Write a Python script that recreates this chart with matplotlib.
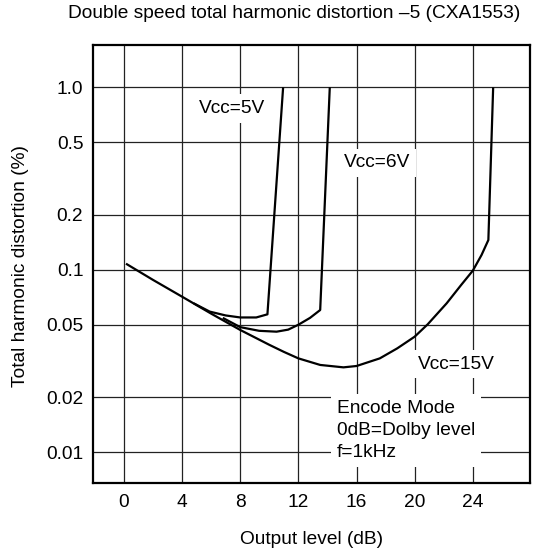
import matplotlib
matplotlib.use("Agg")
import matplotlib.pyplot as plt
from matplotlib.ticker import FixedLocator, NullLocator

plt.rcParams['font.family'] = ['Liberation Sans', 'DejaVu Sans']

# Data
x_15 = [0.14, 2.0, 4.0, 6.0, 8.0, 10.0, 11.0, 12.0, 13.5, 15.1, 16.0, 17.6, 18.8, 20.0,
        20.9, 22.2, 23.2, 24.0, 24.6, 25.07, 25.4]
y_15 = [0.108, 0.088, 0.0712, 0.0575, 0.0468, 0.0388, 0.0355, 0.0327, 0.0301, 0.0292,
        0.0297, 0.0327, 0.0371, 0.043, 0.0503, 0.0655, 0.0826, 0.0989, 0.1205, 0.1456, 1.0]

x_5 = [4.8, 5.9, 7.0, 8.0, 9.1, 9.87, 10.95]
y_5 = [0.0655, 0.059, 0.0562, 0.0548, 0.0548, 0.057, 1.0]

x_6 = [6.8, 8.0, 9.3, 10.5, 11.3, 12.0, 12.8, 13.5, 14.16]
y_6 = [0.0545, 0.0485, 0.0463, 0.0458, 0.0470, 0.0500, 0.0545, 0.0602, 1.0]

x_ticks = [0, 4, 8, 12, 16, 20, 24]
y_ticks = [1.0, 0.5, 0.2, 0.1, 0.05, 0.02, 0.01]
y_tick_labels = ["1.0", "0.5", "0.2", "0.1", "0.05", "0.02", "0.01"]

title = "Double speed total harmonic distortion \u20135 (CXA1553)"
xlabel = "Output level (dB)"
ylabel = "Total harmonic distortion (%)"

FS = 13.8

fig = plt.figure(figsize=(5.5, 5.51), dpi=100)
ax = fig.add_axes([93/550, 1 - 482.5/551, (529.5 - 93)/550, (482.5 - 45)/551])
ax.set_yscale('log')
ax.set_xlim(-2.13, 27.9)
ax.set_ylim(0.00683, 1.705)

ax.xaxis.set_major_locator(FixedLocator(x_ticks))
ax.xaxis.set_minor_locator(NullLocator())
ax.yaxis.set_major_locator(FixedLocator(y_ticks))
ax.yaxis.set_minor_locator(NullLocator())
ax.set_xticklabels([str(v) for v in x_ticks])
ax.set_yticklabels(y_tick_labels)
ax.tick_params(axis='both', length=0, labelsize=FS)
ax.tick_params(axis='x', pad=8)
ax.tick_params(axis='y', pad=7)

ax.grid(True, which='major', color='#222222', linewidth=0.9, zorder=1)
ax.set_axisbelow(True)
for s in ax.spines.values():
    s.set_linewidth(1.6)
    s.set_color('black')

lw = 1.6
for xs, ys in ((x_15, y_15), (x_5, y_5), (x_6, y_6)):
    ax.plot(xs, ys, color='black', lw=lw, zorder=4, solid_joinstyle='round',
            solid_capstyle='butt')

box = dict(facecolor='white', edgecolor='none', pad=4)
ax.text(7.43, 0.765, "Vcc=5V", fontsize=FS, ha='center', va='center', bbox=box, zorder=3)
ax.text(17.45, 0.385, "Vcc=6V", fontsize=FS, ha='center', va='center', bbox=box, zorder=3)
ax.text(22.85, 0.0303, "Vcc=15V", fontsize=FS, ha='center', va='center', bbox=box, zorder=3)
ax.text(14.66, 0.01316, "Encode Mode\n0dB=Dolby level\nf=1kHz", fontsize=FS,
        ha='left', va='center', linespacing=1.42, bbox=box, zorder=3)

fig.text(294/550, 1 - 13/551, title, fontsize=FS, ha='center', va='center')
fig.text(312/550, 1 - 539/551, xlabel, fontsize=FS, ha='center', va='center')
fig.text(21/550, 1 - 266/551, ylabel, fontsize=FS, ha='center', va='center', rotation=90)

fig.savefig("out.png", dpi=100)
